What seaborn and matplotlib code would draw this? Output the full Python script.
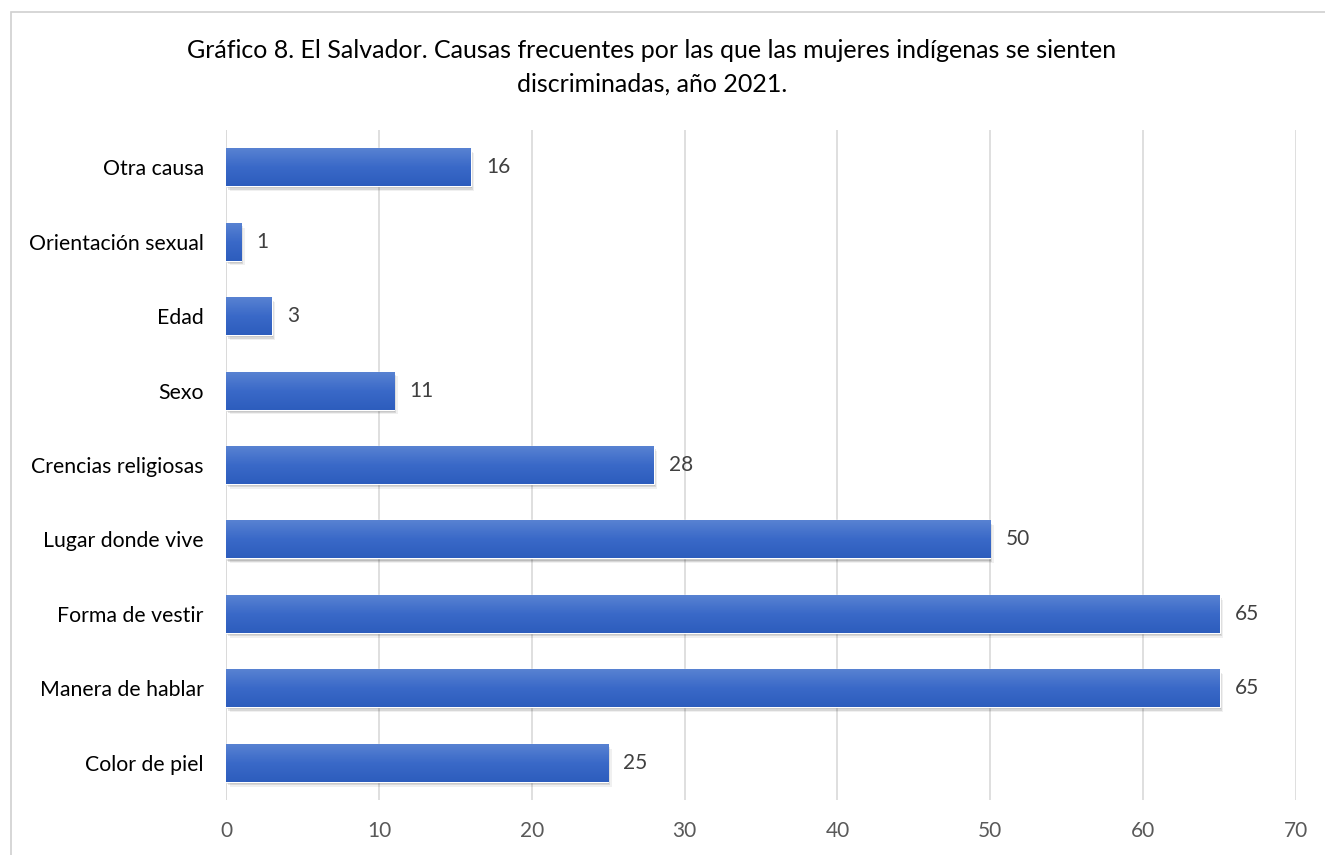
import numpy as np
import pandas as pd
import matplotlib
matplotlib.use('Agg')
import matplotlib.pyplot as plt
import matplotlib.patheffects as pe
from matplotlib.colors import LinearSegmentedColormap
from matplotlib.patches import Rectangle
import seaborn as sns

# Datos del gráfico (de arriba hacia abajo)
causas = ['Otra causa', 'Orientación sexual', 'Edad', 'Sexo', 'Crencias religiosas',
          'Lugar donde vive', 'Forma de vestir', 'Manera de hablar', 'Color de piel']
valores = [16, 1, 3, 11, 28, 50, 65, 65, 25]
ticks_x = [0, 10, 20, 30, 40, 50, 60, 70]

titulo = ('Gráfico 8. El Salvador. Causas frecuentes por las que las mujeres indígenas se sienten\n'
          'discriminadas, año 2021.')

df = pd.DataFrame({'causa': causas, 'valor': valores})

sns.set_style('white')
plt.rcParams['font.family'] = ['Lato', 'DejaVu Sans']

fig = plt.figure(figsize=(13.25, 8.55), dpi=100)
ax = fig.add_axes([0.1706, 0.0643, 0.8075, 0.7837])

sns.barplot(data=df, x='valor', y='causa', order=causas, orient='h',
            color='#3A68C6', width=0.51, ax=ax, saturation=1)

# Degradado y sombra suave en cada barra
cmap = LinearSegmentedColormap.from_list('azul', ['#5882D2', '#3A69C8', '#2D5DBD'])
grad = np.linspace(0, 1, 64).reshape(-1, 1)
for barra in ax.patches:
    barra.set_path_effects([pe.SimplePatchShadow(offset=(2.5, -3.5), shadow_rgbFace='#000000', alpha=0.06),
                            pe.SimplePatchShadow(offset=(1.5, -2.5), shadow_rgbFace='#000000', alpha=0.10),
                            pe.SimplePatchShadow(offset=(0.8, -1.5), shadow_rgbFace='#000000', alpha=0.12),
                            pe.Normal()])
    x0, y0 = barra.get_x(), barra.get_y()
    w, h = barra.get_width(), barra.get_height()
    im = ax.imshow(grad, extent=(x0, x0 + w, y0 + h, y0), cmap=cmap, aspect='auto',
                   zorder=barra.get_zorder() + 0.1, interpolation='bilinear')
    im.set_clip_path(barra)

ax.set_xlim(0, 70)
ax.set_ylim(8.5, -0.5)
ax.set_xticks(ticks_x)
ax.xaxis.grid(True, color='#D9D9D9', linewidth=1.2)
ax.set_axisbelow(True)
for lado in ['top', 'right', 'bottom', 'left']:
    ax.spines[lado].set_visible(False)
ax.axvline(0, color='#D9D9D9', linewidth=1.2, zorder=0)
ax.tick_params(axis='both', length=0)
ax.tick_params(axis='x', labelsize=15, labelcolor='#595959', pad=15)
ax.tick_params(axis='y', labelsize=15.3, labelcolor='#000000', pad=16)
ax.set_xlabel('')
ax.set_ylabel('')

for i, v in enumerate(valores):
    ax.text(v + 1.0, i, str(v), va='center', ha='left', fontsize=15, color='#404040')

fig.text(0.492, 0.954, titulo, ha='center', va='top', fontsize=18, color='#000000',
         linespacing=1.55)

# Borde del gráfico
fig.patches.append(Rectangle((11 / 1325, -0.05), 1.2, 1 - 12 / 855 + 0.05, transform=fig.transFigure,
                             fill=False, edgecolor='#D0D0D0', linewidth=1.2))

fig.savefig('out.png', dpi=100)
